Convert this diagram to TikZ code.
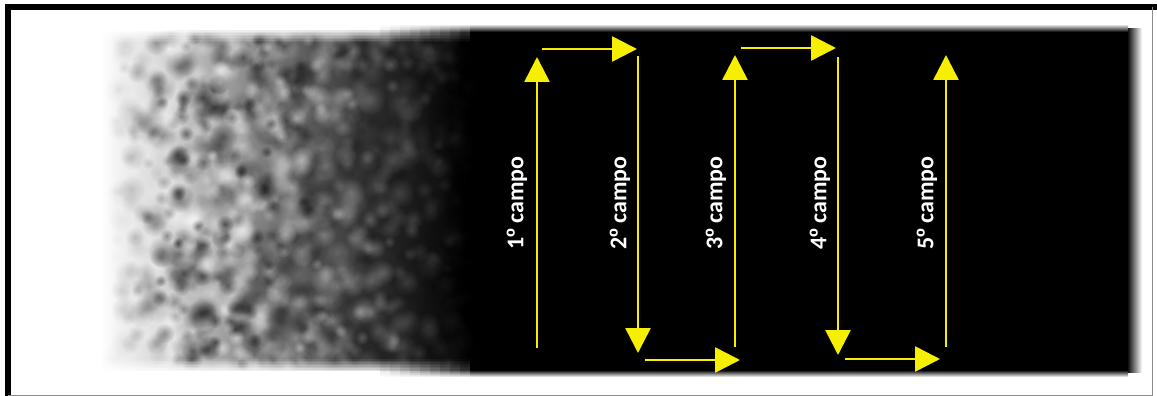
\documentclass[tikz,border=0pt]{standalone}
\usepackage{fontspec}
\setmainfont{Carlito}
\newfontfamily\ordfont{Liberation Sans}
\usetikzlibrary{arrows.meta,fadings}
\definecolor{flowyellow}{RGB}{246,240,0}
\tikzfading[name=softdot, inner color=transparent!0, outer color=transparent!100]
\tikzset{
  flow/.style={draw=flowyellow, line width=2.6pt,
    -{Triangle[length=25pt,width=25pt]}, shorten >=0pt},
  lab/.style={text=white, rotate=90, inner sep=0pt,
    font=\fontsize{24}{24}\selectfont\bfseries},
}
\newcommand{\ordo}{{\ordfont\bfseries º}}
\begin{document}
\begin{tikzpicture}[x=1pt,y=-1pt]
\useasboundingbox (0,0) rectangle (1157,396);
\fill[white] (0,0) rectangle (1157,396);

% dark band with a soft grey gradient on the left
\fill[black] (466,29) rectangle (1128,372);
\shade[left color=white, right color=black!20] (100,32) rectangle (175,370);
\shade[left color=black!20, right color=black!52] (175,31) rectangle (265,371);
\shade[left color=black!52, right color=black!80] (265,30) rectangle (365,372);
\shade[left color=black!80, right color=black] (365,29) rectangle (467,372);
% blurred right, top and bottom edges of the solid part
\shade[left color=black, right color=white] (1127,29) rectangle (1142,372);
\shade[top color=white, bottom color=black] (380,24) rectangle (1128,32);
\shade[top color=black, bottom color=white] (380,370) rectangle (1128,377);

% mottled texture
\pgfmathsetseed{11}
\begin{scope}
  \clip (95,30) rectangle (480,371);
  \foreach \i in {1,...,1100} {
    \pgfmathsetmacro{\px}{110+rnd*370}
    \pgfmathsetmacro{\py}{34+rnd*334}
    \pgfmathsetmacro{\rr}{6+rnd*10}
    \pgfmathsetmacro{\fade}{max(0,min(1,(475-\px)/240))*min(1,(\px-110)/70)}
    \pgfmathsetmacro{\op}{(0.20+0.35*rnd)*\fade}
    \pgfmathsetmacro{\tone}{rnd>0.5 ? 100 : 0}
    \fill[black!\tone, opacity=\op, path fading=softdot] (\px,\py) circle[radius=\rr pt];
  }
\end{scope}
% soft top and bottom edges of the textured part, easing out to the right
\foreach \k in {0,...,9} {
  \pgfmathsetmacro{\xa}{\k==0 ? 95 : 370+10*\k}
  \pgfmathsetmacro{\xb}{380+10*\k}
  \pgfmathsetmacro{\w}{1-0.085*\k}
  \fill[white, opacity=\w] (\xa,24) rectangle (\xb,30.5);
  \fill[white, opacity=\w] (\xa,371) rectangle (\xb,377);
  \foreach \j in {0,...,7} {
    \pgfmathsetmacro{\op}{(0.85-0.11*\j)*\w}
    \fill[white, opacity=\op] (\xa,30.5+1.5*\j) rectangle (\xb,32+1.5*\j);
    \fill[white, opacity=\op] (\xa,371-1.5*\j) rectangle (\xb,369.5-1.5*\j);
  }
}

% frame
\draw[black, line width=6pt] (8,396) -- (8,7.5) -- (1157,7.5);
\draw[black!45, line width=1.2pt] (1152.5,7.5) -- (1152.5,395.4) -- (8,395.4);

% path corners
\coordinate (a1) at (537,348);
\coordinate (b1) at (537,57);
\coordinate (a2) at (542,49);
\coordinate (b2) at (637,49);
\coordinate (a3) at (638,56);
\coordinate (b3) at (638,353);
\coordinate (a4) at (645,360);
\coordinate (b4) at (740,360);
\coordinate (a5) at (735,347);
\coordinate (b5) at (735,55);
\coordinate (a6) at (741,48);
\coordinate (b6) at (836,48);
\coordinate (a7) at (838,57);
\coordinate (b7) at (838,355);
\coordinate (a8) at (845,359);
\coordinate (b8) at (940,359);
\coordinate (a9) at (946,347);
\coordinate (b9) at (946,55);

\foreach \k in {1,...,9} { \draw[flow] (a\k) -- (b\k); }

% field labels
\node[lab] (c1) at (517,203) {1\ordo\ campo};
\node[lab] (c2) at (620,203) {2\ordo\ campo};
\node[lab] (c3) at (716,203) {3\ordo\ campo};
\node[lab] (c4) at (820,203) {4\ordo\ campo};
\node[lab] (c5) at (927,203) {5\ordo\ campo};
\end{tikzpicture}
\end{document}
